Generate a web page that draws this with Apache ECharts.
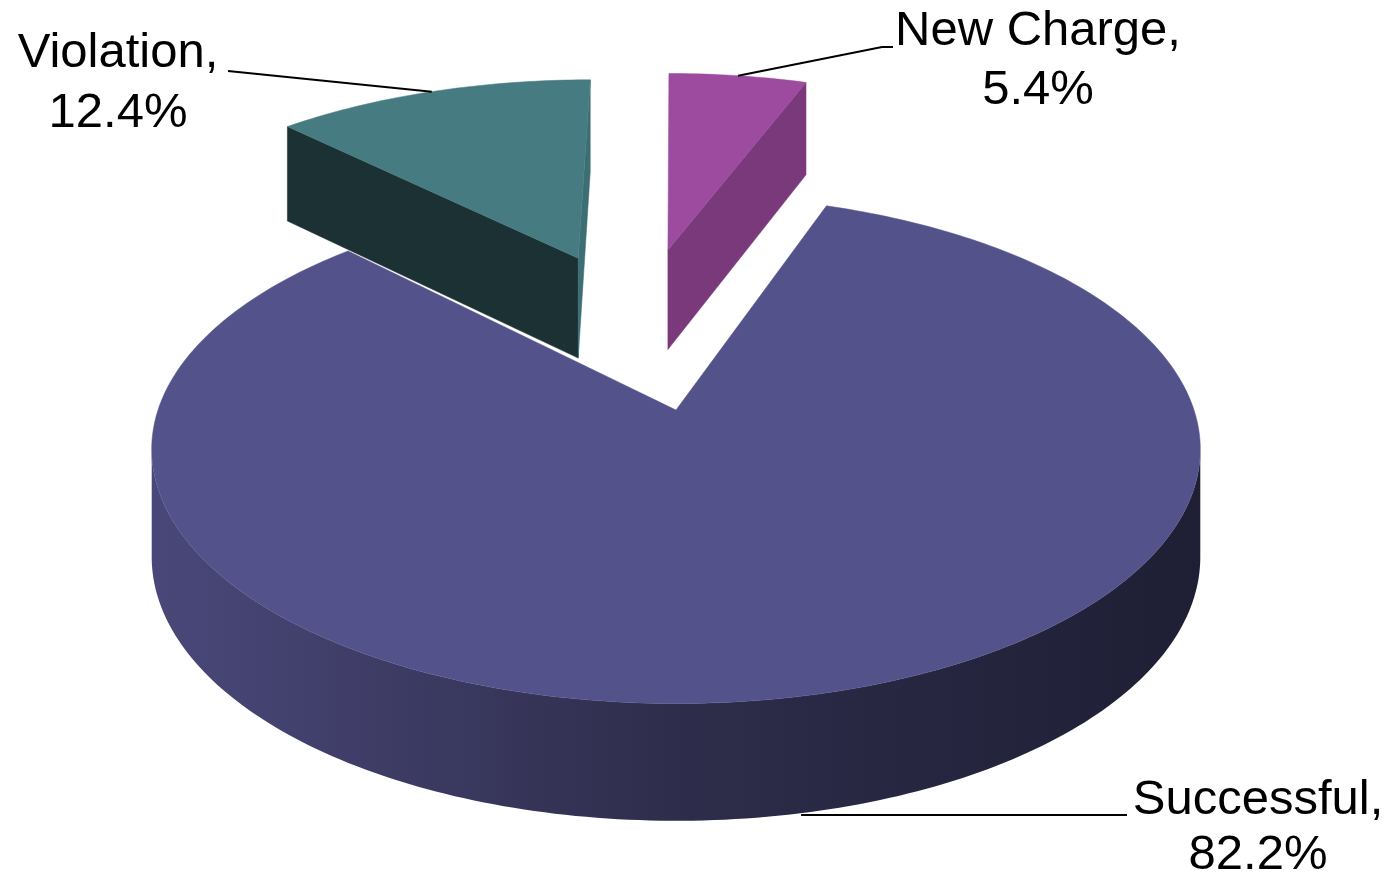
<!DOCTYPE html>
<html>
<head>
<meta charset="utf-8">
<title>Outcome pie</title>
<script src="https://cdn.jsdelivr.net/npm/echarts@6/dist/echarts.min.js"></script>
<style>
  html, body { margin: 0; padding: 0; background: #fff; }
  #main { width: 1393px; height: 881px; }
</style>
</head>
<body>
<div id="main"></div>
<script>
// data
const categories = ['New Charge', 'Successful', 'Violation']
const shares = [5.4, 82.2, 12.4]

// look of each slice (colours, how far it is pulled out, where its label sits)
const topColors = ['#9c4b9f', '#54528a', '#467c81']
const cutColors = [['#8a428d', '#7a397b'], ['#3a3966', '#3a3966'], ['#1c3134', '#3d6e73']]
const wallColors = [
  ['#7a397b', '#6a3170', '#5a2960'],
  ['#4a487a', '#2e2d4b', '#1e1e34'],
  ['#2a4a4e', '#1c3134', '#142426']
]
const explode = [[-9, 371], [0, 0], [-108, 350]]
const labelPos = [
  { x: 1038, y: 61, lh: 59, line: [[882, 47], [893, 47]] },
  { x: 1258, y: 828, lh: 55, flat: true, line: [[1127, 815]] },
  { x: 118, y: 83, lh: 60, line: [[228, 71]] }
]

// fake 3d camera
const CX = 676
const CY = 410
const R = 518
const D = 3349
const TILT = 0.479
const H = 106
const DEG = Math.PI / 180

function project (X, Z, depth) {
  const s = D / (D + Z)
  return [CX + X * s, CY - TILT * Z * s + depth * Math.pow(s, 0.6)]
}
function rim (i, a, depth) {
  return project(explode[i][0] + R * Math.sin(a * DEG), explode[i][1] + R * Math.cos(a * DEG), depth)
}
function apex (i, depth) {
  return project(explode[i][0], explode[i][1], depth)
}
function area (pts) {
  let s = 0
  for (let i = 0; i < pts.length; i++) {
    const p = pts[i]
    const q = pts[(i + 1) % pts.length]
    s += p[0] * q[1] - q[0] * p[1]
  }
  return s
}

const total = shares.reduce((a, b) => a + b, 0)
const starts = []
let acc = 0
shares.forEach((v) => { starts.push(acc / total * 360); acc += v })

function renderItem (params, api) {
  const i = params.dataIndex
  const a0 = starts[i]
  const a1 = a0 + api.value(1) / total * 360
  const mid = (a0 + a1) / 2
  // back slices first, the front one last
  const zb = Math.round(-(explode[i][1] + R * 0.5 * Math.cos(mid * DEG)))

  const angles = []
  for (let a = a0; a < a1; a += 1) angles.push(a)
  angles.push(a1)

  const children = []

  // radial cut faces
  const cut = (a, isEnd, color) => {
    const pts = [apex(i, 0), rim(i, a, 0), rim(i, a, H), apex(i, H)]
    const ar = area(pts)
    if ((isEnd && ar > 0) || (!isEnd && ar < 0)) {
      children.push({ type: 'polygon', z2: zb, shape: { points: pts }, style: { fill: color, stroke: color, lineWidth: 0.5 } })
    }
  }
  cut(a0, false, cutColors[i][0])
  cut(a1, true, cutColors[i][1])

  // outer wall, only the parts that face us
  const grad = new echarts.graphic.LinearGradient(CX - R - 10, 0, CX + R + 10, 0, [
    { offset: 0, color: wallColors[i][0] },
    { offset: 0.5, color: wallColors[i][1] },
    { offset: 1, color: wallColors[i][2] }
  ], true)
  let run = []
  const flush = () => {
    if (run.length > 1) {
      const top = run.map((a) => rim(i, a, 0))
      const bot = run.map((a) => rim(i, a, H)).reverse()
      children.push({ type: 'polygon', z2: zb + 1, shape: { points: top.concat(bot) }, style: { fill: grad } })
    }
    run = []
  }
  for (let k = 0; k < angles.length - 1; k++) {
    const a = angles[k]
    const b = angles[k + 1]
    const q = [rim(i, a, 0), rim(i, b, 0), rim(i, b, H), rim(i, a, H)]
    if (area(q) < 0) {
      if (run.length === 0) run.push(a)
      run.push(b)
    } else {
      flush()
    }
  }
  flush()

  // top face
  const topPts = [apex(i, 0)].concat(angles.map((a) => rim(i, a, 0)))
  children.push({ type: 'polygon', z2: zb + 2, shape: { points: topPts }, style: { fill: topColors[i], stroke: topColors[i], lineWidth: 0.5 } })

  // label + leader line
  const lp = labelPos[i]
  const front = Math.cos(mid * DEG) < 0
  const anchor = rim(i, mid, front ? H : 0)
  const linePts = lp.flat
    ? [[anchor[0] - 8, lp.line[0][1]]].concat(lp.line)
    : [anchor].concat(lp.line)
  children.push({ type: 'polyline', z2: 5000, shape: { points: linePts }, style: { stroke: '#000', lineWidth: 2, fill: null } })
  children.push({
    type: 'text',
    z2: 5001,
    style: {
      text: categories[i] + ',\n' + api.value(1).toFixed(1) + '%',
      x: lp.x,
      y: lp.y,
      align: 'center',
      verticalAlign: 'middle',
      font: '49px "Liberation Sans", Arial, sans-serif',
      lineHeight: lp.lh,
      fill: '#000'
    }
  })

  return { type: 'group', children: children }
}

const myChart = echarts.init(document.getElementById('main'))
const option = {
  animation: false,
  series: [
    {
      type: 'custom',
      coordinateSystem: 'none',
      renderItem: renderItem,
      data: shares.map((v, i) => [i, v])
    }
  ]
}
myChart.setOption(option)
</script>
</body>
</html>
